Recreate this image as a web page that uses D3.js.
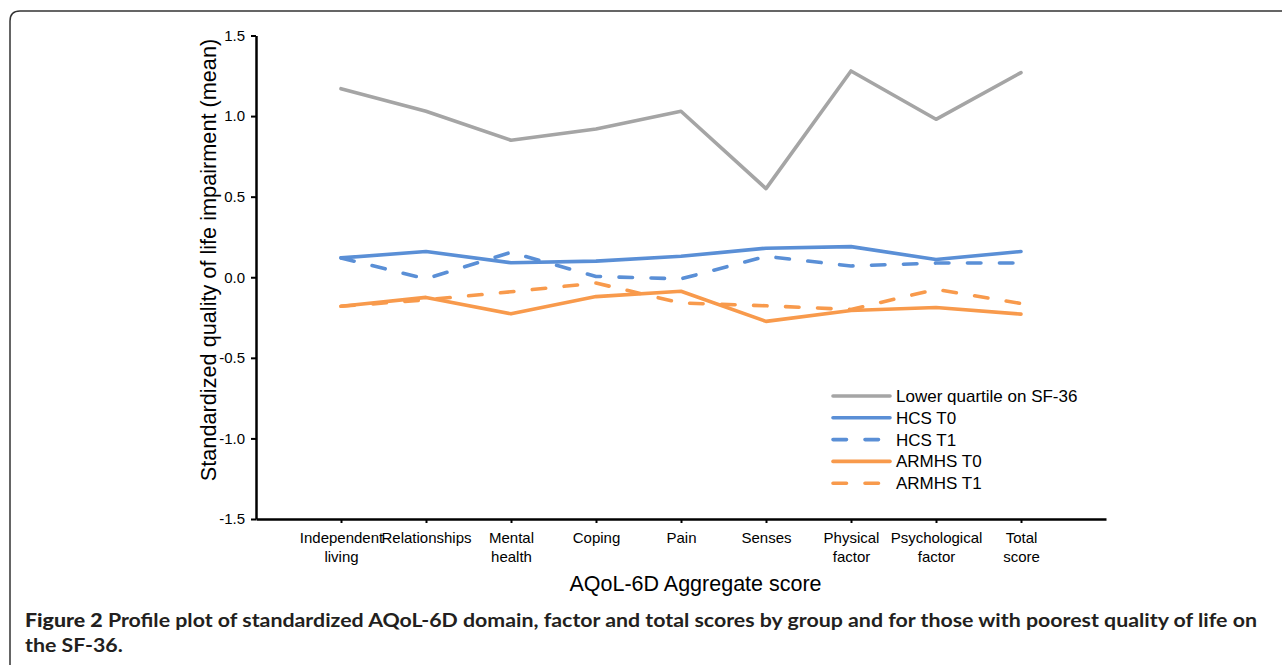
<!DOCTYPE html>
<html>
<head>
<meta charset="utf-8">
<script src="https://cdn.jsdelivr.net/npm/d3@7"></script>
<style>
  html, body { margin: 0; padding: 0; background: #fff; }
  svg { display: block; }
</style>
</head>
<body>
<svg id="chart" width="1282" height="665"></svg>
<script>
// ---- data ----
const categories = [
  ["Independent", "living"], ["Relationships"], ["Mental", "health"], ["Coping"], ["Pain"],
  ["Senses"], ["Physical", "factor"], ["Psychological", "factor"], ["Total", "score"]
];
const yTicks = [-1.5, -1.0, -0.5, 0.0, 0.5, 1.0, 1.5];
const yTickLabels = ["-1.5", "-1.0", "-0.5", "0.0", "0.5", "1.0", "1.5"];
const lowerQuartile = [1.17, 1.03, 0.85, 0.92, 1.03, 0.55, 1.28, 0.98, 1.27];
const hcsT0 = [0.12, 0.16, 0.09, 0.10, 0.13, 0.18, 0.19, 0.11, 0.16];
const hcsT1 = [0.12, -0.01, 0.155, 0.005, -0.01, 0.13, 0.07, 0.088, 0.088];
const armhsT0 = [-0.18, -0.125, -0.227, -0.12, -0.087, -0.274, -0.206, -0.188, -0.229];
const armhsT1 = [-0.18, -0.14, -0.09, -0.036, -0.16, -0.177, -0.20, -0.075, -0.163];
const seriesNames = ["Lower quartile on SF-36", "HCS T0", "HCS T1", "ARMHS T0", "ARMHS T1"];
const seriesValues = [lowerQuartile, hcsT0, hcsT1, armhsT0, armhsT1];
const seriesColors = ["#a5a5a5", "#5a8fd6", "#5a8fd6", "#f89a4c", "#f89a4c"];
const seriesDashed = [false, false, true, false, true];
const yTitle = "Standardized quality of life impairment (mean)";
const xTitle = "AQoL-6D Aggregate score";
const captionBold = "Figure 2";
const captionLine1 = " Profile plot of standardized AQoL-6D domain, factor and total scores by group and for those with poorest quality of life on";
const captionLine2 = "the SF-36.";

// ---- layout ----
const svg = d3.select("#chart");
const X0 = 256, X1 = 1106, YTOP = 35.5, YBOT = 519;
const font = "'Liberation Sans', Arial, Helvetica, sans-serif";

const catKeys = categories.map(c => c.join(" "));
const x = d3.scalePoint().domain(catKeys).range([X0, X1]).padding(1);
const y = d3.scaleLinear().domain([-1.5, 1.5]).range([YBOT, YTOP]);

// frame
svg.append("path")
  .attr("d", `M10,665 L10,21 Q10,11 20,11 L1282,11`)
  .attr("fill", "none").attr("stroke", "#333").attr("stroke-width", 1.5);

// y axis
const yAxis = svg.append("g").attr("transform", `translate(${X0},0)`)
  .call(d3.axisLeft(y).tickValues(yTicks).tickFormat((d, i) => yTickLabels[i]).tickSize(5).tickSizeOuter(0).tickPadding(6));
yAxis.select(".domain").attr("stroke", "#000").attr("stroke-width", 2.5);
yAxis.selectAll(".tick line").attr("stroke", "#000").attr("stroke-width", 2);
yAxis.selectAll(".tick text").attr("font-family", font).attr("font-size", 15).attr("fill", "#000");

// x axis
const xAxis = svg.append("g").attr("transform", `translate(0,${YBOT})`)
  .call(d3.axisBottom(x).tickSize(4).tickSizeOuter(0).tickFormat(() => ""));
xAxis.select(".domain").attr("stroke", "#000").attr("stroke-width", 2.5);
xAxis.selectAll(".tick line").attr("stroke", "#000").attr("stroke-width", 2);
xAxis.selectAll(".tick text").remove();
xAxis.selectAll(".tick").each(function(d, i) {
  const t = d3.select(this).append("text")
    .attr("font-family", font).attr("font-size", 15).attr("fill", "#000")
    .attr("text-anchor", "middle");
  categories[i].forEach((line, j) => {
    t.append("tspan").attr("x", 0).attr("y", 24 + j * 19).text(line);
  });
});

// lines
const lineGen = d3.line().x((d, i) => x(catKeys[i])).y(d => y(d));
seriesValues.forEach((vals, s) => {
  svg.append("path")
    .datum(vals)
    .attr("d", lineGen)
    .attr("fill", "none")
    .attr("stroke", seriesColors[s])
    .attr("stroke-width", 3.6)
    .attr("stroke-linecap", "round")
    .attr("stroke-linejoin", "round")
    .attr("stroke-dasharray", seriesDashed[s] ? "13.5 18.5" : null);
});

// legend
const legend = svg.append("g").attr("transform", "translate(833,396)");
seriesNames.forEach((name, s) => {
  const g = legend.append("g").attr("transform", `translate(0,${s * 21.8})`);
  g.append("line").attr("x1", 0).attr("x2", 57).attr("y1", 0).attr("y2", 0)
    .attr("stroke", seriesColors[s]).attr("stroke-width", 3.6)
    .attr("stroke-linecap", "round")
    .attr("stroke-dasharray", seriesDashed[s] ? "13.5 18.5" : null);
  g.append("text").attr("x", 63).attr("y", 6)
    .attr("font-family", font).attr("font-size", 17).attr("fill", "#000").text(name);
});

// axis titles
svg.append("text")
  .attr("transform", `translate(216,260) rotate(-90)`)
  .attr("text-anchor", "middle")
  .attr("font-family", font).attr("font-size", 21.7).attr("fill", "#000")
  .text(yTitle);
svg.append("text")
  .attr("x", 695.5).attr("y", 591)
  .attr("text-anchor", "middle")
  .attr("font-family", font).attr("font-size", 21.5).attr("fill", "#000")
  .text(xTitle);

// caption
const capFont = "Lato, 'Open Sans', 'Noto Sans', sans-serif";
const c1 = svg.append("text").attr("x", 25).attr("y", 627)
  .attr("font-family", capFont).attr("font-size", 19).attr("fill", "#231f20").attr("font-weight", 700);
c1.append("tspan").attr("font-weight", 900).text(captionBold);
c1.append("tspan").text(captionLine1);
const natural = c1.node().getComputedTextLength();
const target = 1232;
const factor = target / natural;
c1.attr("textLength", target).attr("lengthAdjust", "spacingAndGlyphs");
const c2 = svg.append("text").attr("x", 25).attr("y", 652)
  .attr("font-family", capFont).attr("font-size", 19).attr("fill", "#231f20").attr("font-weight", 700)
  .text(captionLine2);
const n2 = c2.node().getComputedTextLength();
c2.attr("textLength", n2 * factor).attr("lengthAdjust", "spacingAndGlyphs");
</script>
</body>
</html>
